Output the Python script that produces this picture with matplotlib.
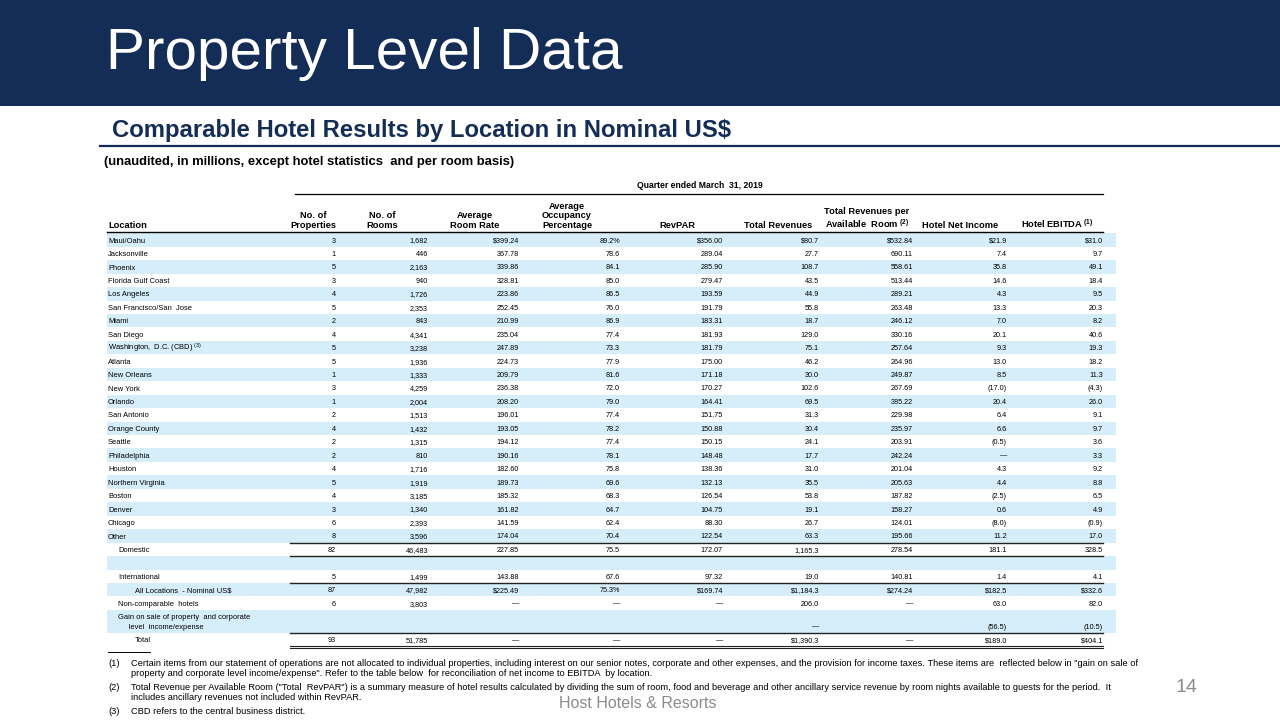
import numpy as np
import matplotlib.pyplot as plt
from matplotlib.patches import Rectangle

plt.rcParams['font.family'] = ['Liberation Sans', 'DejaVu Sans']
plt.rcParams['mathtext.fontset'] = 'custom'
plt.rcParams['mathtext.rm'] = 'Liberation Sans'
plt.rcParams['mathtext.default'] = 'regular'

# 数据（None = 空白, np.nan = "—"）
DASH = np.nan
locations = [
    'Maui/Oahu', 'Jacksonville', 'Phoenix', 'Florida Gulf Coast', 'Los Angeles',
    'San Francisco/San  Jose', 'Miami', 'San Diego', r'Washington,  D.C. (CBD) $^{(3)}$',
    'Atlanta', 'New Orleans', 'New York', 'Orlando', 'San Antonio', 'Orange County',
    'Seattle', 'Philadelphia', 'Houston', 'Northern Virginia', 'Boston', 'Denver',
    'Chicago', 'Other', 'Domestic', '', 'International', 'All Locations  - Nominal US$',
    'Non-comparable  hotels', 'Gain on sale of property  and corporate\n     level  income/expense',
    'Total',
]
properties = [3, 1, 5, 3, 4, 5, 2, 4, 5, 5, 1, 3, 1, 2, 4, 2, 2, 4, 5, 4, 3, 6, 8,
              82, None, 5, 87, 6, None, 93]
rooms = [1682, 446, 2163, 940, 1726, 2353, 843, 4341, 3238, 1936, 1333, 4259, 2004,
         1513, 1432, 1315, 810, 1716, 1919, 3185, 1340, 2393, 3596,
         46483, None, 1499, 47982, 3803, None, 51785]
room_rate = [399.24, 367.78, 339.86, 328.81, 223.86, 252.45, 210.99, 235.04, 247.89,
             224.73, 209.79, 236.38, 208.20, 196.01, 193.05, 194.12, 190.16, 182.60,
             189.73, 185.32, 161.82, 141.59, 174.04,
             227.85, None, 143.88, 225.49, DASH, None, DASH]
occupancy = [89.2, 78.6, 84.1, 85.0, 86.5, 76.0, 86.9, 77.4, 73.3, 77.9, 81.6, 72.0,
             79.0, 77.4, 78.2, 77.4, 78.1, 75.8, 69.6, 68.3, 64.7, 62.4, 70.4,
             75.5, None, 67.6, 75.3, DASH, None, DASH]
revpar = [356.00, 289.04, 285.90, 279.47, 193.59, 191.79, 183.31, 181.93, 181.79,
          175.00, 171.18, 170.27, 164.41, 151.75, 150.88, 150.15, 148.48, 138.36,
          132.13, 126.54, 104.75, 88.30, 122.54,
          172.07, None, 97.32, 169.74, DASH, None, DASH]
total_revenues = [80.7, 27.7, 108.7, 43.5, 44.9, 55.8, 18.7, 129.0, 75.1, 46.2, 30.0,
                  102.6, 69.5, 31.3, 30.4, 24.1, 17.7, 31.0, 35.5, 53.8, 19.1, 26.7, 63.3,
                  1165.3, None, 19.0, 1184.3, 206.0, DASH, 1390.3]
total_revpar = [532.84, 690.11, 558.61, 513.44, 289.21, 263.48, 246.12, 330.16, 257.64,
                264.96, 249.87, 267.69, 385.22, 229.98, 235.97, 203.91, 242.24, 201.04,
                205.63, 187.82, 158.27, 124.01, 195.66,
                278.54, None, 140.81, 274.24, DASH, None, DASH]
net_income = [21.9, 7.4, 35.8, 14.6, 4.3, 13.3, 7.0, 20.1, 9.3, 13.0, 8.5, -17.0, 20.4,
              6.4, 6.6, -0.5, DASH, 4.3, 4.4, -2.5, 0.6, -8.0, 11.2,
              181.1, None, 1.4, 182.5, 63.0, -56.5, 189.0]
ebitda = [31.0, 9.7, 49.1, 18.4, 9.5, 20.3, 8.2, 40.6, 19.3, 18.2, 11.3, -4.3, 26.0,
          9.1, 9.7, 3.6, 3.3, 9.2, 8.8, 6.5, 4.9, -0.9, 17.0,
          328.5, None, 4.1, 332.6, 82.0, -10.5, 404.1]

headers = ['No. of\nProperties', 'No. of\nRooms', 'Average\nRoom Rate',
           'Average\nOccupancy\nPercentage', 'RevPAR', 'Total Revenues',
           'Total Revenues per\n' + r'Available  Room $^{(2)}$', 'Hotel Net Income',
           r'Hotel EBITDA $^{(1)}$']
columns = [properties, rooms, room_rate, occupancy, revpar, total_revenues,
           total_revpar, net_income, ebitda]
decimals = [0, 0, 2, 1, 2, 1, 2, 1, 1]

dollar_rows = {0, 26, 29}
pct_rows = {0, 26}
indent = {23: 10, 25: 10, 26: 27, 27: 10, 28: 10, 29: 27}

footnotes = [
    ('(1)', ['Certain items from our statement of operations are not allocated to individual properties, including interest on our senior notes, '
             'corporate and other expenses, and the provision for income taxes. These items are  reflected below in "gain on sale of',
             'property and corporate level income/expense". Refer to the table below  for reconciliation of net income to EBITDA  by location.']),
    ('(2)', ['Total Revenue per Available Room ("Total  RevPAR") is a summary measure of hotel results calculated by dividing the sum of room, '
             'food and beverage and other ancillary service revenue by room nights available to guests for the period.  It',
             'includes ancillary revenues not included within RevPAR.']),
    ('(3)', ['CBD refers to the central business district.']),
]

NAVY = '#142d56'
SHADE = '#d5eef9'

def fmt(v, d, dollar, pct):
    if v is None:
        return ''
    if isinstance(v, float) and np.isnan(v):
        return '—'
    s = f'{abs(v):,.{d}f}'
    if dollar:
        s = '$' + s
    if pct:
        s = s + '%'
    if v < 0:
        s = '(' + s + ')'
    return s

fig = plt.figure(figsize=(12.8, 7.2), dpi=100)
ax = fig.add_axes([0, 0, 1, 1])
ax.set_xlim(0, 1280)
ax.set_ylim(720, 0)
ax.axis('off')

# 标题栏
ax.add_patch(Rectangle((0, 0), 1280, 106, color=NAVY, lw=0))
ax.text(106, 54, 'Property Level Data', color='white', fontsize=42, va='center', ha='left')
ax.text(112, 130, 'Comparable Hotel Results by Location in Nominal US$', color=NAVY,
        fontsize=17.2, fontweight='bold', va='center', ha='left')
ax.plot([100, 1280], [146, 146], color=NAVY, lw=1.6)
ax.text(104, 162, '(unaudited, in millions, except hotel statistics  and per room basis)',
        fontsize=9.4, fontweight='bold', va='center', ha='left')

# 表头
ax.text(700, 186, 'Quarter ended March  31, 2019', fontsize=6.2, fontweight='bold',
        ha='center', va='center')
ax.plot([295, 1103], [194, 194], color='black', lw=0.9)
col_right = [336, 428, 519, 620, 723, 819, 913, 1007, 1103]
head_x = [313, 382, 475, 567, 677, 778, 867, 960, 1057]
for hx, h in zip(head_x, headers):
    ax.text(hx, 230, h, fontsize=6.7, fontweight='bold', ha='center', va='bottom',
            linespacing=1.1)
ax.text(108, 230, 'Location', fontsize=6.7, fontweight='bold', ha='left', va='bottom')
ax.plot([107, 1103], [232.3, 232.3], color='black', lw=1.0)

# 行
top = 233.3
pitch = 13.45
y = top
row_bottoms = []
for i, loc in enumerate(locations):
    h = 23 if i == 28 else pitch
    if i % 2 == 0:
        ax.add_patch(Rectangle((107, y), 1009, h, color=SHADE, lw=0))
    yc = y + h / 2
    x0 = 108 + indent.get(i, 0)
    if i == 28:
        first, second = loc.split('\n')
        ax.text(x0, yc - 4.8 + 2.6, first, fontsize=5.4, ha='left', va='baseline')
        ax.text(x0, yc + 4.8 + 2.6, second, fontsize=5.4, ha='left', va='baseline')
        yv = yc + 4.8
    else:
        ax.text(x0, yc + 2.6, loc, fontsize=5.4, ha='left', va='baseline')
        yv = yc
    for c, col in enumerate(columns):
        s = fmt(col[i], decimals[c], i in dollar_rows and c >= 2 and c != 3,
                i in pct_rows and c == 3)
        ax.text(col_right[c], yv + 2.5, s, fontsize=5.2, ha='right', va='baseline')
    y += h
    row_bottoms.append(y)

# 分隔线
for r in [22, 23, 25, 28]:
    ax.plot([290, 1103], [row_bottoms[r], row_bottoms[r]], color='#222222', lw=1.0)
tb = row_bottoms[29]
ax.plot([290, 1103], [tb - 0.5, tb - 0.5], color='#222222', lw=0.8)
ax.plot([290, 1103], [tb + 1.8, tb + 1.8], color='#222222', lw=0.8)

# 脚注
ax.plot([108, 150], [652, 652], color='black', lw=0.7)
fy = [663, 687, 711]
for (num, lines), yy in zip(footnotes, fy):
    ax.text(108, yy + 2.5, num, fontsize=6.7, ha='left', va='baseline')
    for k, ln in enumerate(lines):
        ax.text(131, yy + 2.5 + 10.5 * k, ln, fontsize=6.7, ha='left', va='baseline')

ax.text(638, 703, 'Host Hotels & Resorts', color='#8c8c8c', fontsize=11.5,
        ha='center', va='center')
ax.text(1197, 688, '14', color='#8c8c8c', fontsize=14, ha='right', va='center')

plt.savefig('out.png', dpi=100)
